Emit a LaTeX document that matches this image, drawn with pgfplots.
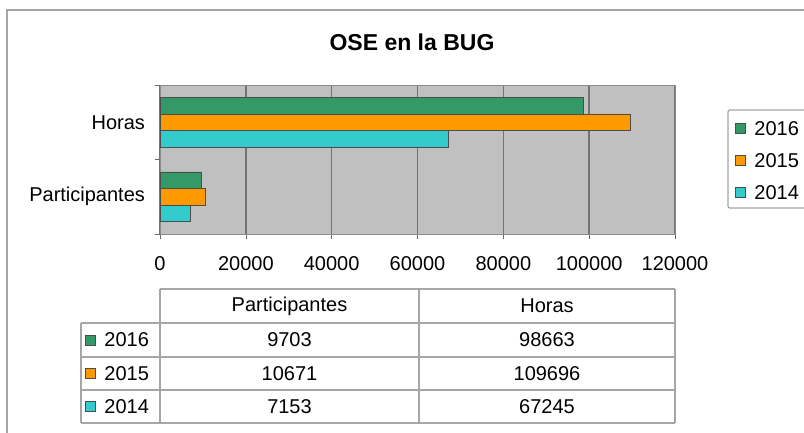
\documentclass[border=0pt]{standalone}
\usepackage{pgfplots}
\pgfplotsset{compat=1.18}
\usepackage{fontspec}
\setmainfont{Liberation Sans}

\definecolor{c16}{HTML}{339966}
\definecolor{c15}{HTML}{FF9900}
\definecolor{c14}{HTML}{33CCCC}
\definecolor{plotbg}{HTML}{C0C0C0}

\begin{document}
\begin{tikzpicture}[x=0.5pt,y=0.5pt,font=\fontsize{10}{12}\selectfont]
  \path[use as bounding box] (0,0) rectangle (804,433);

  % plot area: 160..675 px across, 85..234 px down -> (80pt, 99.5pt) from bottom-left
  \begin{axis}[
    at={(80pt,99.5pt)}, anchor=south west,
    scale only axis, width=257.5pt, height=74.5pt,
    xbar, bar width=0.2215,
    xmin=0, xmax=120000, ymin=-0.5, ymax=1.5,
    xtick={0,20000,40000,60000,80000,100000,120000},
    xticklabels={0,20000,40000,60000,80000,100000,120000},
    scaled x ticks=false,
    ytick={0,1}, yticklabels={Participantes,Horas},
    minor ytick={-0.5,0.5,1.5},
    xtick pos=bottom, ytick pos=left,
    tick align=outside,
    major tick length=2.5pt, minor tick length=2.5pt,
    major y tick style={draw=none},
    minor y tick style={black!60},
    x tick style={black!60},
    xticklabel style={yshift=-5pt},
    yticklabel style={xshift=-1.5pt},
    xmajorgrids, major x grid style={black!55, line width=0.7pt},
    axis background/.style={fill=plotbg},
    axis line style={black!45},
    clip=false,
  ]
    \addplot[fill=c14, draw=black!70, bar shift=-0.2215] coordinates {(7153,0) (67245,1)};
    \addplot[fill=c15, draw=black!70, bar shift=0] coordinates {(10671,0) (109696,1)};
    \addplot[fill=c16, draw=black!70, bar shift=0.2215] coordinates {(9703,0) (98663,1)};
  \end{axis}

  % everything else in pixel coordinates measured from the top-left corner
  \begin{scope}[y=-0.5pt, yshift=216.5pt]
  % outer chart frame
  \draw[gray!70, line width=0.9pt] (7,445) -- (7,10) -- (815,10);
  \node[font=\fontsize{11.5}{13}\selectfont\bfseries] at (412,42) {OSE en la BUG};

  % legend
  \draw[gray!70, line width=0.6pt, rounded corners=1pt] (728,110) rectangle (820,208);
  \draw[fill=c16, draw=black!70] (735,123) rectangle (745,133);
  \node[anchor=west, inner sep=0] at (754,128.5) {2016};
  \draw[fill=c15, draw=black!70] (735,155) rectangle (745,165);
  \node[anchor=west, inner sep=0] at (754,160.5) {2015};
  \draw[fill=c14, draw=black!70] (735,187) rectangle (745,197);
  \node[anchor=west, inner sep=0] at (754,192.5) {2014};

  % data table
  \draw[gray!70, line width=0.6pt]
    (160,289) -- (675,289)
    (81,323) -- (675,323)
    (81,357) -- (675,357)
    (81,390) -- (675,390)
    (81,423) -- (675,423)
    (81,323) -- (81,423)
    (160,289) -- (160,423)
    (419,289) -- (419,423)
    (675,289) -- (675,423);
  \node at (289.5,306) {Participantes};
  \node at (547,306) {Horas};
  \draw[fill=c16, draw=black!70] (85,335) rectangle (95,345);
  \node[anchor=west, inner sep=0] at (104,340) {2016};
  \node at (289.5,340) {9703};
  \node at (547,340) {98663};
  \draw[fill=c15, draw=black!70] (85,368.5) rectangle (95,378.5);
  \node[anchor=west, inner sep=0] at (104,373.5) {2015};
  \node at (289.5,373.5) {10671};
  \node at (547,373.5) {109696};
  \draw[fill=c14, draw=black!70] (85,401.5) rectangle (95,411.5);
  \node[anchor=west, inner sep=0] at (104,406.5) {2014};
  \node at (289.5,406.5) {7153};
  \node at (547,406.5) {67245};
  \end{scope}
\end{tikzpicture}
\end{document}
